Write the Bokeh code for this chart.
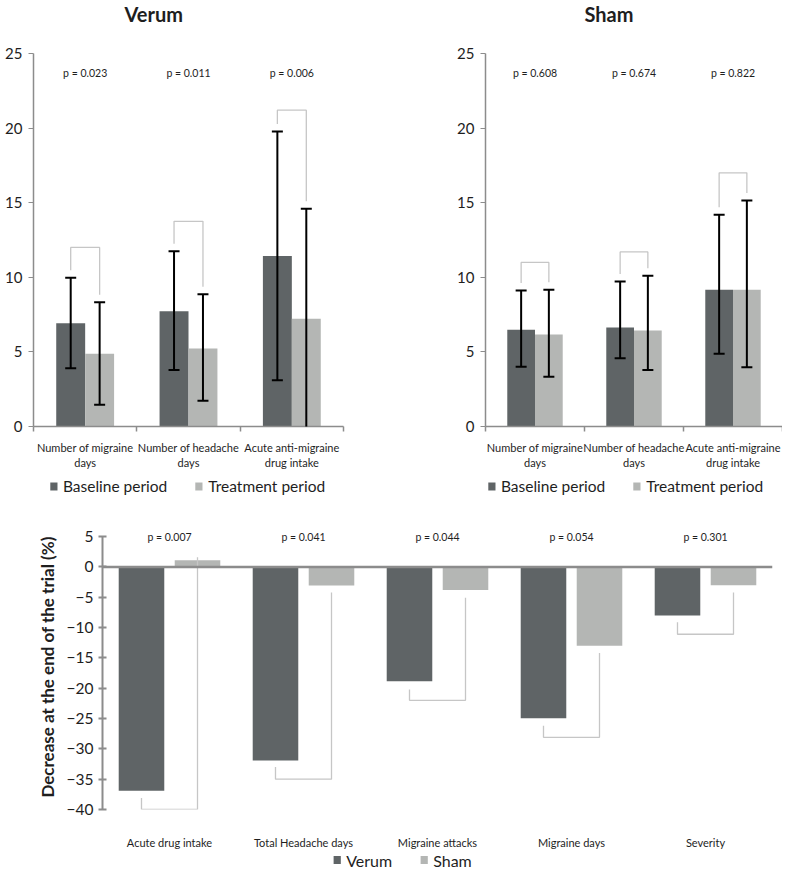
from bokeh.plotting import figure
from bokeh.models import (ColumnDataSource, FixedTicker, Range1d, Legend, LegendItem,
                          LabelSet, Span, Whisker, TeeHead)
from bokeh.core.properties import value
from bokeh.layouts import column, row
from bokeh.embed import file_html
from bokeh.resources import INLINE

# ---------------- data ----------------
top_categories = ["Number of migraine\ndays", "Number of headache\ndays", "Acute anti-migraine\ndrug intake"]
top_series = ["Baseline period", "Treatment period"]
top_yticks = [0, 5, 10, 15, 20, 25]

verum_baseline = [6.92, 7.73, 11.42]
verum_baseline_lo = [3.9, 3.78, 3.1]
verum_baseline_hi = [9.97, 11.75, 19.77]
verum_treatment = [4.87, 5.23, 7.22]
verum_treatment_lo = [1.45, 1.72, -0.15]
verum_treatment_hi = [8.33, 8.87, 14.6]
verum_p = ["p = 0.023", "p = 0.011", "p = 0.006"]
verum_bracket_top = [12.0, 13.75, 21.2]

sham_baseline = [6.48, 6.64, 9.16]
sham_baseline_lo = [4.0, 4.58, 4.87]
sham_baseline_hi = [9.12, 9.72, 14.2]
sham_treatment = [6.17, 6.43, 9.16]
sham_treatment_lo = [3.33, 3.78, 3.97]
sham_treatment_hi = [9.16, 10.1, 15.15]
sham_p = ["p = 0.608", "p = 0.674", "p = 0.822"]
sham_bracket_top = [11.0, 11.7, 17.0]

bottom_categories = ["Acute drug intake", "Total Headache days", "Migraine attacks", "Migraine days", "Severity"]
bottom_series = ["Verum", "Sham"]
bottom_yticks = [5, 0, -5, -10, -15, -20, -25, -30, -35, -40]
decrease_verum = [-36.9, -31.9, -18.85, -24.97, -8.0]
decrease_sham = [1.1, -3.06, -3.8, -13.0, -3.0]
bottom_p = ["p = 0.007", "p = 0.041", "p = 0.044", "p = 0.054", "p = 0.301"]
bracket_verum_end = [-38.1, -33.0, -20.2, -26.2, -9.1]
bracket_bottom = [-40.0, -35.0, -22.0, -28.1, -11.1]
bracket_sham_end = [1.6, -4.2, -5.1, -14.2, -4.2]

# ---------------- style ----------------
FONT = "Lato"
DARK = "#5f6466"
LIGHT = "#b4b6b4"
AXIS = "#8c8c8c"
BRACKET = "#c6c6c6"
TEXT = "#1e1e1e"
BRACKET_GAP = 0.5


def style_common(p):
    p.grid.visible = False
    p.outline_line_color = None
    p.background_fill_color = "white"
    p.border_fill_color = "white"


def legend_fig(labels, colors, width, height, border_left, border_right, font_size):
    lf = figure(width=width, height=height, x_range=Range1d(0, 1), y_range=Range1d(0, 1),
                output_backend="svg", toolbar_location=None,
                x_axis_location=None, y_axis_location=None, min_border=0,
                min_border_left=border_left, min_border_right=border_right)
    style_common(lf)
    items = []
    for lab, col in zip(labels, colors):
        # zero-height placeholder renderer that only feeds the legend swatch
        r = lf.vbar(x=[0.5], top=[0], bottom=[0], width=0, fill_color=col, line_color=None)
        items.append(LegendItem(label=lab, renderers=[r]))
    lg = Legend(items=items, orientation="horizontal", location="center",
                border_line_color=None, background_fill_alpha=0,
                label_text_font=FONT, label_text_font_size=font_size, label_text_color=TEXT,
                glyph_width=9, glyph_height=10, spacing=27, label_standoff=5,
                padding=0, margin=0)
    lf.add_layout(lg)
    return lf


def make_top(title, title_offset, base, base_lo, base_hi, treat, treat_lo, treat_hi,
             pvals, btop, width, border_left, border_right):
    n = len(top_categories)
    xc = [i + 0.5 for i in range(n)]
    xb = [x - 0.14 for x in xc]
    xt = [x + 0.14 for x in xc]
    p = figure(width=width, height=474, x_range=Range1d(0, n), y_range=Range1d(0, 25),
               output_backend="svg", toolbar_location=None,
               min_border_left=border_left, min_border_right=border_right,
               min_border_top=53, min_border_bottom=48)
    style_common(p)
    p.title.text = title
    p.title.text_font = FONT
    p.title.text_font_style = "bold"
    p.title.text_font_size = "20px"
    p.title.text_color = TEXT
    p.title.align = "left"
    p.title.vertical_align = "top"
    p.title.offset = title_offset
    p.title.standoff = 2
    p.title.padding = dict(left=0, right=0, top=0, bottom=25)

    src = ColumnDataSource(dict(
        xc=xc, xb=xb, xt=xt, base=base, base_lo=base_lo, base_hi=base_hi,
        treat=treat, treat_lo=treat_lo, treat_hi=treat_hi, pvals=pvals,
        py=[23.7] * n,
    ))
    p.vbar(x="xb", top="base", bottom=0, width=0.28, fill_color=DARK, line_color=None, source=src)
    p.vbar(x="xt", top="treat", bottom=0, width=0.28, fill_color=LIGHT, line_color=None, source=src)

    xs = [[a, a, b, b] for a, b in zip(xb, xt)]
    ys = [[h1 + BRACKET_GAP, t, t, h2 + BRACKET_GAP] for h1, t, h2 in zip(base_hi, btop, treat_hi)]
    p.multi_line(xs=xs, ys=ys, line_color=BRACKET, line_width=1.3)

    for xf, lo, hi in (("xb", "base_lo", "base_hi"), ("xt", "treat_lo", "treat_hi")):
        w = Whisker(source=src, base=xf, upper=hi, lower=lo, line_color="black", line_width=2,
                    upper_head=TeeHead(size=11, line_color="black", line_width=2),
                    lower_head=TeeHead(size=11, line_color="black", line_width=2))
        w.level = "overlay"
        p.add_layout(w)

    p.add_layout(LabelSet(x="xc", y="py", text="pvals", source=src, text_align="center",
                          text_baseline="middle", text_font=value(FONT), text_font_size="10.5px",
                          text_color=TEXT))

    ya = p.yaxis[0]
    ya.ticker = FixedTicker(ticks=top_yticks)
    ya.axis_line_color = AXIS
    ya.axis_line_width = 1.5
    ya.major_tick_line_color = AXIS
    ya.major_tick_out = 5
    ya.major_tick_in = 0
    ya.minor_tick_line_color = None
    ya.major_label_text_font = FONT
    ya.major_label_text_font_size = "15px"
    ya.major_label_text_color = TEXT
    ya.major_label_standoff = 6

    xa = p.xaxis[0]
    xa.ticker = FixedTicker(ticks=xc, minor_ticks=list(range(n + 1)))
    xa.major_label_overrides = {x: c for x, c in zip(xc, top_categories)}
    xa.axis_line_color = AXIS
    xa.axis_line_width = 1.5
    xa.major_tick_line_color = None
    xa.minor_tick_line_color = AXIS
    xa.minor_tick_line_width = 1.5
    xa.minor_tick_out = 5
    xa.minor_tick_in = 0
    xa.major_label_text_font = FONT
    xa.major_label_text_font_size = "11px"
    xa.major_label_text_color = TEXT
    xa.major_label_standoff = 8
    return p


p1 = make_top("Verum", 91, verum_baseline, verum_baseline_lo, verum_baseline_hi,
              verum_treatment, verum_treatment_lo, verum_treatment_hi, verum_p, verum_bracket_top,
              width=391, border_left=33, border_right=48)
p2 = make_top("Sham", 99, sham_baseline, sham_baseline_lo, sham_baseline_hi,
              sham_treatment, sham_treatment_lo, sham_treatment_hi, sham_p, sham_bracket_top,
              width=391, border_left=94, border_right=0)
l1 = legend_fig(top_series, [DARK, LIGHT], 391, 24, 3, 20, "15.5px")
l2 = legend_fig(top_series, [DARK, LIGHT], 391, 24, 77, 0, "15.5px")

# ---------------- bottom panel ----------------
nb = len(bottom_categories)
bxc = [i + 0.5 for i in range(nb)]
bxv = [x - 0.209 for x in bxc]
bxs = [x + 0.209 for x in bxc]
pb = figure(width=782, height=353, x_range=Range1d(0, nb), y_range=Range1d(-40, 7),
            output_backend="svg", toolbar_location=None,
            min_border_left=102, min_border_right=10, min_border_top=26, min_border_bottom=40)
style_common(pb)
bsrc = ColumnDataSource(dict(xc=bxc, xv=bxv, xs=bxs, verum=decrease_verum, sham=decrease_sham,
                             pvals=bottom_p, py=[4.9] * nb))
pb.vbar(x="xv", top="verum", bottom=0, width=0.34, fill_color=DARK, line_color=None, source=bsrc)
pb.vbar(x="xs", top="sham", bottom=0, width=0.34, fill_color=LIGHT, line_color=None, source=bsrc)

bxs_lines = [[a, a, b, b] for a, b in zip(bxv, bxs)]
bys_lines = [[v, bt, bt, s] for v, bt, s in zip(bracket_verum_end, bracket_bottom, bracket_sham_end)]
pb.multi_line(xs=bxs_lines, ys=bys_lines, line_color=BRACKET, line_width=1.3)

pb.add_layout(Span(location=0, dimension="width", line_color=AXIS, line_width=2.5))
pb.add_layout(LabelSet(x="xc", y="py", text="pvals", source=bsrc, text_align="center",
                       text_baseline="middle", text_font=value(FONT), text_font_size="10.5px",
                       text_color=TEXT))

ya = pb.yaxis[0]
ya.ticker = FixedTicker(ticks=bottom_yticks)
ya.bounds = (bottom_yticks[-1], bottom_yticks[0])
ya.axis_line_color = AXIS
ya.axis_line_width = 2
ya.major_tick_line_color = AXIS
ya.major_tick_line_width = 2
ya.major_tick_out = 4
ya.major_tick_in = 4
ya.minor_tick_line_color = None
ya.major_label_text_font = FONT
ya.major_label_text_font_size = "15.5px"
ya.major_label_text_color = TEXT
ya.major_label_standoff = 5
ya.axis_label = "Decrease at the end of the trial (%)"
ya.axis_label_text_font = FONT
ya.axis_label_text_font_style = "bold"
ya.axis_label_text_font_size = "17px"
ya.axis_label_text_color = TEXT
ya.axis_label_standoff = 6

xa = pb.xaxis[0]
xa.ticker = FixedTicker(ticks=bxc)
xa.major_label_overrides = {x: c for x, c in zip(bxc, bottom_categories)}
xa.axis_line_color = None
xa.major_tick_line_color = None
xa.major_tick_out = 0
xa.major_tick_in = 0
xa.minor_tick_line_color = None
xa.minor_tick_out = 0
xa.minor_tick_in = 0
xa.major_label_text_font = FONT
xa.major_label_text_font_size = "11px"
xa.major_label_text_color = TEXT
xa.major_label_standoff = 26

lb = legend_fig(bottom_series, [DARK, LIGHT], 782, 17, 22, 0, "16px")

# each part wrapped in its own row so plot frames are not aligned across parts
layout = column(row(p1, p2), row(l1, l2), row(pb), row(lb))
open("out.html", "w").write(file_html(layout, INLINE))
